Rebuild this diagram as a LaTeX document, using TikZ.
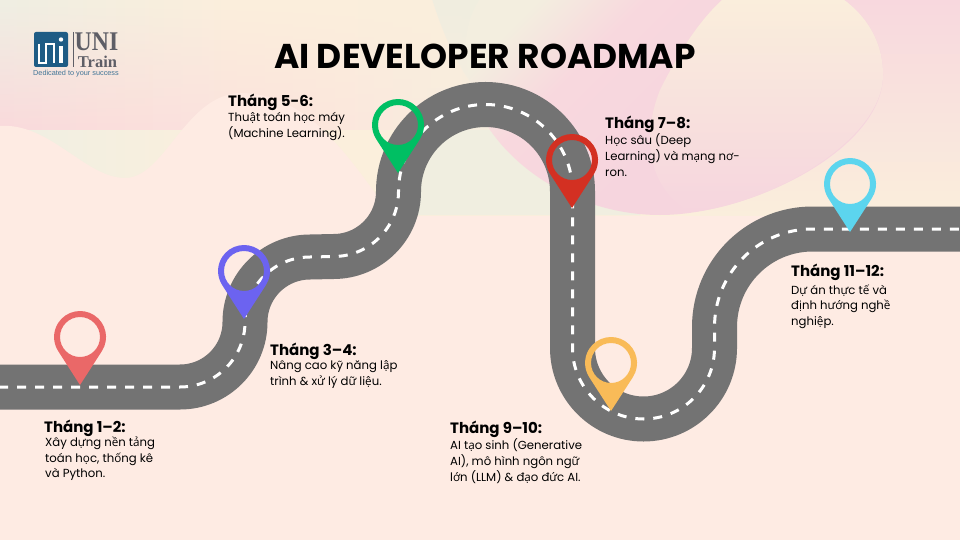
\documentclass[tikz,border=0pt]{standalone}
\usepackage{fontspec}
\usepackage{newunicodechar}
\setmainfont{Poppins}
\newfontfamily\vnfont{Open Sans}
\newfontfamily\logoserif{Liberation Serif}
\newfontfamily\logosans{Liberation Sans}
\newcommand{\vnch}[1]{{\vnfont\symbol{#1}}}
\newunicodechar{ơ}{\vnch{"01A1}}
\newunicodechar{ư}{\vnch{"01B0}}
\newunicodechar{ạ}{\vnch{"1EA1}}
\newunicodechar{ự}{\vnch{"1EF1}}
\newunicodechar{ề}{\vnch{"1EC1}}
\newunicodechar{ả}{\vnch{"1EA3}}
\newunicodechar{ọ}{\vnch{"1ECD}}
\newunicodechar{ố}{\vnch{"1ED1}}
\newunicodechar{ậ}{\vnch{"1EAD}}
\newunicodechar{ử}{\vnch{"1EED}}
\newunicodechar{ữ}{\vnch{"1EEF}}
\newunicodechar{ệ}{\vnch{"1EC7}}
\newunicodechar{ớ}{\vnch{"1EDB}}
\newunicodechar{ứ}{\vnch{"1EE9}}
\newunicodechar{ế}{\vnch{"1EBF}}
\newunicodechar{ị}{\vnch{"1ECB}}
\usetikzlibrary{positioning,fadings}
\definecolor{bgpeach}{HTML}{FEEBE3}
\definecolor{roadgray}{HTML}{737373}
\definecolor{logoblue}{HTML}{1F5C85}
\definecolor{logogray}{HTML}{5E5E66}
\definecolor{cA}{HTML}{EFEFE3}
\definecolor{cB}{HTML}{FBEFDC}
\definecolor{cC}{HTML}{F0EEE0}
\definecolor{cE}{HTML}{FAEEDC}
\definecolor{tA}{HTML}{FADADC}
\definecolor{tB}{HTML}{FCE5DD}
\definecolor{tC}{HTML}{F7EEDF}
\definecolor{tD}{HTML}{F8D8DE}
\definecolor{tE}{HTML}{F6D5DE}
\definecolor{tF}{HTML}{F3EEDF}
\pgfdeclarehorizontalshading{midband}{100bp}{color(0bp)=(cA);
  color(25bp)=(cA); color(37bp)=(cB); color(50bp)=(cB); color(75bp)=(cE); color(100bp)=(cE)}
\pgfdeclarehorizontalshading{topband}{100bp}{color(0bp)=(tA);
  color(25bp)=(tA); color(41bp)=(tB); color(50bp)=(tC); color(75bp)=(tD); color(100bp)=(tD)}
\pgfdeclareverticalshading{pinkblob}{100bp}{color(0bp)=(tE);
  color(45bp)=(tE); color(64bp)=(tD); color(76bp)=(tF); color(100bp)=(tF)}
\begin{document}
\begin{tikzpicture}[x=1pt,y=-1pt,
  roadbed/.style={draw=roadgray,line width=45pt},
  roadline/.style={draw=white,line width=3pt,dash pattern=on 9pt off 9pt,dash phase=7pt},
  stephead/.style={anchor=west,inner sep=0pt,font=\bfseries\fontsize{15}{15}\selectfont},
  stepbody/.style={anchor=north west,inner sep=0pt,align=left,font=\fontsize{11.7}{15.8}\selectfont}]
 \useasboundingbox (0,0) rectangle (960,540);
 % background
 \fill[bgpeach] (0,0) rectangle (960,540);
 \shade[shading=midband] (0,0) rectangle (960,215);
 \fill[cC] (432,-1) .. controls (445,40) and (460,70) .. (475,88) -- (410,130) -- (410,215) -- (640,215) -- (640,-1) -- cycle;
 \shade[shading=topband,path fading=north] (0,0) rectangle (960,130);
 \shade[top color=tD,bottom color=cE] (700,0) rectangle (960,215);
 \fill[bgpeach] (-1,126) .. controls (50,122) and (85,178) .. (125,178)
   .. controls (165,178) and (185,95) .. (240,93)
   .. controls (310,93) and (350,160) .. (392,216) -- (-1,216) -- cycle;
 \shade[shading=pinkblob,shading angle=45]
   (480,-1) .. controls (452,40) and (470,95) .. (490,130)
   .. controls (525,180) and (590,215) .. (660,215)
   .. controls (750,215) and (883,150) .. (883,75)
   .. controls (883,40) and (865,15) .. (843,-1) -- cycle;
 \shade[shading angle=-50,top color=cE,bottom color=tE]
   (723,-1) .. controls (700,20) and (680,50) .. (660,90)
   .. controls (640,140) and (650,190) .. (690,212)
   .. controls (770,205) and (883,140) .. (883,75)
   .. controls (883,40) and (865,15) .. (843,-1) -- cycle;
 % road
 \path[roadbed] (-30,387) -- (180,387) arc (90:0:65) arc (180:270:65) -- (333.5,256.5) arc (90:0:65)
   arc (180:360:87) -- (572.5,348) arc (180:0:71) -- (714.5,327) arc (180:270:98) -- (990,229);
 \path[roadline] (-30,387) -- (180,387) arc (90:0:65) arc (180:270:65) -- (333.5,256.5) arc (90:0:65)
   arc (180:360:87) -- (572.5,348) arc (180:0:71) -- (714.5,327) arc (180:270:98) -- (990,229);
 % pins
 \foreach \px/\py/\pcol in {80/337/EA6868,244/271/6C63F0,398/125/00BF63,572/160/D33022,611/363/F9BB58,850/184/5CD5EE}{
  \definecolor{pincol}{HTML}{\pcol}
  \fill[pincol,even odd rule] (\px,\py+48) -- ++(21.9,-33.9) arc (32.8:-212.8:26) -- cycle
    (\px,\py) circle[radius=20];
 }
 % title
 \node[font=\bfseries\fontsize{34.4}{34}\selectfont,inner sep=0pt] (title) at (485,56) {AI DEVELOPER ROADMAP};
 % steps
 \node[stephead] (m12) at (44,428) {Tháng 1–2:};
 \node[stepbody,below=0pt of m12.south west,anchor=north west,xshift=1pt] (t12) {Xây dựng nền tảng\\toán học, thống kê\\và Python.};
 \node[stephead] (m34) at (270,351) {Tháng 3–4:};
 \node[stepbody,below=1pt of m34.south west,anchor=north west] (t34) {Nâng cao kỹ năng lập\\trình \& xử lý dữ liệu.};
 \node[stephead] (m56) at (228,102) {Tháng 5-6:};
 \node[stepbody,below=2pt of m56.south west,anchor=north west] (t56) {Thuật toán học máy\\(Machine Learning).};
 \node[stephead] (m78) at (605,124) {Tháng 7–8:};
 \node[stepbody,below=1pt of m78.south west,anchor=north west] (t78) {Học sâu (Deep\\Learning) và mạng nơ-\\ron.};
 \node[stephead] (m910) at (450,429) {Tháng 9–10:};
 \node[stepbody,below=1pt of m910.south west,anchor=north west] (t910) {AI tạo sinh (Generative\\AI), mô hình ngôn ngữ\\lớn (LLM) \& đạo đức AI.};
 \node[stephead] (m1112) at (791,272) {Tháng 11–12:};
 \node[stepbody,below=4pt of m1112.south west,anchor=north west] (t1112) {Dự án thực tế và\\định hướng nghề\\nghiệp.};
 % logo
 \fill[logoblue,rounded corners=2pt] (34,32) rectangle (68,67);
 \draw[white,line width=1.7pt] (39,44) -- (39,63) -- (46,63) -- (46,44) -- (54,44) -- (54,63);
 \draw[white,line width=3.5pt] (61,46) -- (61,63);
 \fill[white] (61,39.5) circle[radius=2.2];
 \draw[logogray,line width=.8pt] (73,32) -- (73,67);
 \node[inner sep=0pt,anchor=center,font=\logoserif\bfseries\fontsize{27}{27}\selectfont,text=logogray,xscale=.88] (uni) at (96.5,41.5) {UNI};
 \node[inner sep=0pt,anchor=center,font=\logoserif\bfseries\fontsize{16.5}{16.5}\selectfont,text=logogray] (train) at (97.5,61.5) {Train};
 \node[inner sep=0pt,anchor=center,font=\logosans\fontsize{7.3}{8}\selectfont,text=logoblue!85] (tag) at (76,74) {Dedicated to your success};
\end{tikzpicture}
\end{document}
